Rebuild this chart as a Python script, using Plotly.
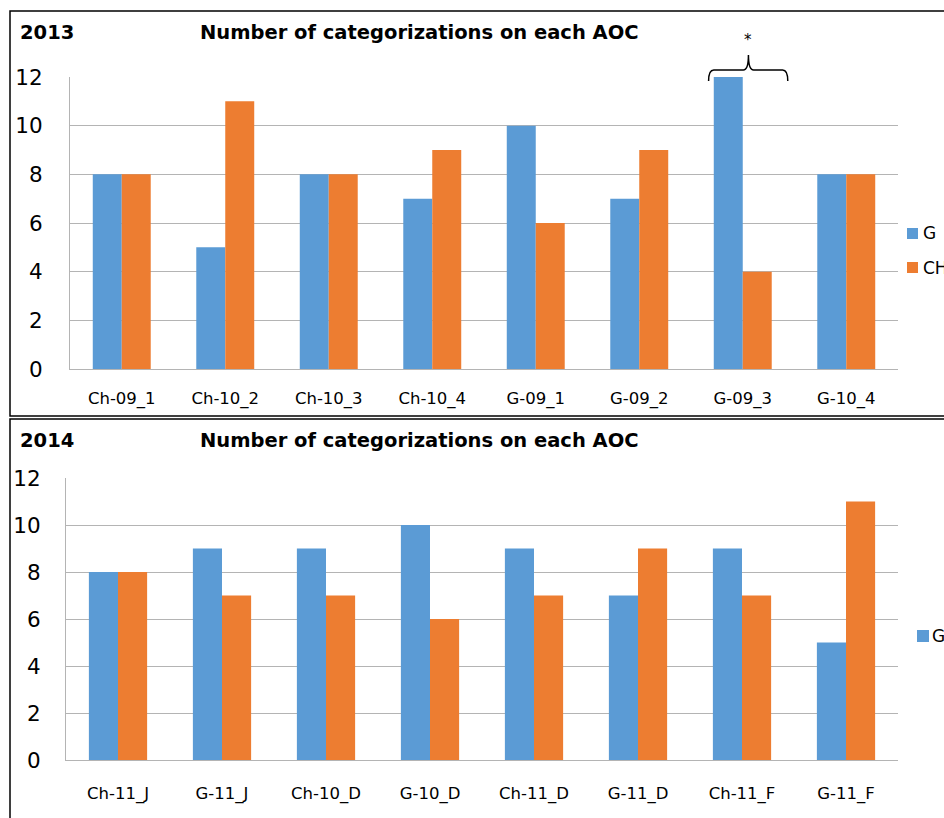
import plotly.graph_objects as go

W, H = 944, 818

# ---- data ----
cats_2013 = ["Ch-09_1", "Ch-10_2", "Ch-10_3", "Ch-10_4", "G-09_1", "G-09_2", "G-09_3", "G-10_4"]
g_2013 = [8, 5, 8, 7, 10, 7, 12, 8]
ch_2013 = [8, 11, 8, 9, 6, 9, 4, 8]

cats_2014 = ["Ch-11_J", "G-11_J", "Ch-10_D", "G-10_D", "Ch-11_D", "G-11_D", "Ch-11_F", "G-11_F"]
g_2014 = [8, 9, 9, 10, 9, 7, 9, 5]
ch_2014 = [8, 7, 7, 6, 7, 9, 7, 11]

y_ticks = [0, 2, 4, 6, 8, 10, 12]
series_names = ["G", "CH"]

BLUE = "#5B9BD5"
ORANGE = "#ED7D31"
GRID = "#B4B4B4"
FONT = "DejaVu Sans"


def px_x(p):
    return p / W


def px_y(p):
    return 1 - p / H


fig = go.Figure()

x1 = list(range(len(cats_2013)))
x2 = list(range(len(cats_2014)))

fig.add_trace(go.Bar(x=x1, y=g_2013, name=series_names[0], marker_color=BLUE,
                     xaxis="x", yaxis="y", showlegend=False))
fig.add_trace(go.Bar(x=x1, y=ch_2013, name=series_names[1], marker_color=ORANGE,
                     xaxis="x", yaxis="y", showlegend=False))
fig.add_trace(go.Bar(x=x2, y=g_2014, name=series_names[0], marker_color=BLUE,
                     xaxis="x2", yaxis="y2", showlegend=False))
fig.add_trace(go.Bar(x=x2, y=ch_2014, name=series_names[1], marker_color=ORANGE,
                     xaxis="x2", yaxis="y2", showlegend=False))

xcommon = dict(range=[-0.5, 7.5], showgrid=False, showline=True, linecolor=GRID,
               linewidth=1, ticks="", tickfont=dict(family=FONT, size=16.5, color="#000"),
               fixedrange=True, automargin=False, zeroline=False)
ycommon = dict(range=[0, 12], tickvals=y_ticks, showgrid=True, gridcolor=GRID,
               gridwidth=1, showline=True, linecolor=GRID, linewidth=1, ticks="",
               tickfont=dict(family=FONT, size=21.5, color="#000"), zeroline=False,
               fixedrange=True, automargin=False)

fig.update_layout(
    template="none",
    width=W, height=H,
    margin=dict(l=0, r=0, t=0, b=0, pad=0),
    paper_bgcolor="white", plot_bgcolor="white",
    showlegend=False,
    barmode="group", bargap=0.44, bargroupgap=0,
    xaxis=dict(xcommon, domain=[px_x(70), px_x(898)], anchor="y",
               tickvals=x1, ticktext=cats_2013, ticklabelstandoff=14),
    yaxis=dict(ycommon, domain=[px_y(369), px_y(77)], anchor="x",
               ticklabelstandoff=22),
    xaxis2=dict(xcommon, domain=[px_x(66), px_x(898)], anchor="y2",
                tickvals=x2, ticktext=cats_2014, ticklabelstandoff=18),
    yaxis2=dict(ycommon, domain=[px_y(760), px_y(478)], anchor="x2",
                ticklabelstandoff=20),
)

shapes = []
# panel borders
shapes.append(dict(type="rect", xref="paper", yref="paper",
                   x0=px_x(10), x1=1.05, y0=px_y(416), y1=px_y(11),
                   line=dict(color="#000", width=1.5), layer="above"))
shapes.append(dict(type="rect", xref="paper", yref="paper",
                   x0=px_x(10), x1=1.05, y0=-0.05, y1=px_y(419),
                   line=dict(color="#000", width=1.5), layer="above"))

# brace over G-09_3
L, R, A = 5.67, 6.435, 6.055
d = 0.05
yb, ym, yt = px_y(81), px_y(70), px_y(55)
path = (f"M {L},{yb} Q {L},{ym} {L+d},{ym} L {A-d},{ym} Q {A},{ym} {A},{yt} "
        f"Q {A},{ym} {A+d},{ym} L {R-d},{ym} Q {R},{ym} {R},{yb}")
shapes.append(dict(type="path", xref="x", yref="paper", path=path,
                   line=dict(color="#000", width=1.5)))

# legend squares
shapes.append(dict(type="rect", xref="paper", yref="paper",
                   x0=px_x(907), x1=px_x(918), y0=px_y(239), y1=px_y(228),
                   fillcolor=BLUE, line=dict(width=0)))
shapes.append(dict(type="rect", xref="paper", yref="paper",
                   x0=px_x(907), x1=px_x(918), y0=px_y(273), y1=px_y(262),
                   fillcolor=ORANGE, line=dict(width=0)))
shapes.append(dict(type="rect", xref="paper", yref="paper",
                   x0=px_x(917), x1=px_x(929), y0=px_y(642), y1=px_y(630),
                   fillcolor=BLUE, line=dict(width=0)))

annotations = []


def txt(text, x, y, size, bold=False, xref="paper", xanchor="left"):
    annotations.append(dict(text=f"<b>{text}</b>" if bold else text, x=x, y=y,
                            xref=xref, yref="paper", xanchor=xanchor, yanchor="middle",
                            showarrow=False, font=dict(family=FONT, size=size, color="#000")))


txt("2013", px_x(18), px_y(33), 19.5, bold=True)
txt("Number of categorizations on each AOC", px_x(198), px_y(33), 19.5, bold=True)
txt("2014", px_x(18), px_y(441), 19.5, bold=True)
txt("Number of categorizations on each AOC", px_x(198), px_y(441), 19.5, bold=True)
txt("*", A, px_y(40), 15, xref="x", xanchor="center")
txt(series_names[0], px_x(921), px_y(233), 17)
txt(series_names[1], px_x(921), px_y(268), 17)
txt(series_names[0], px_x(930), px_y(636), 17)

fig.update_layout(shapes=shapes, annotations=annotations)

fig.write_html(
    "out.html",
    config={"displayModeBar": False},
    post_script="document.body.style.margin='0';document.body.style.overflow='hidden';",
)
